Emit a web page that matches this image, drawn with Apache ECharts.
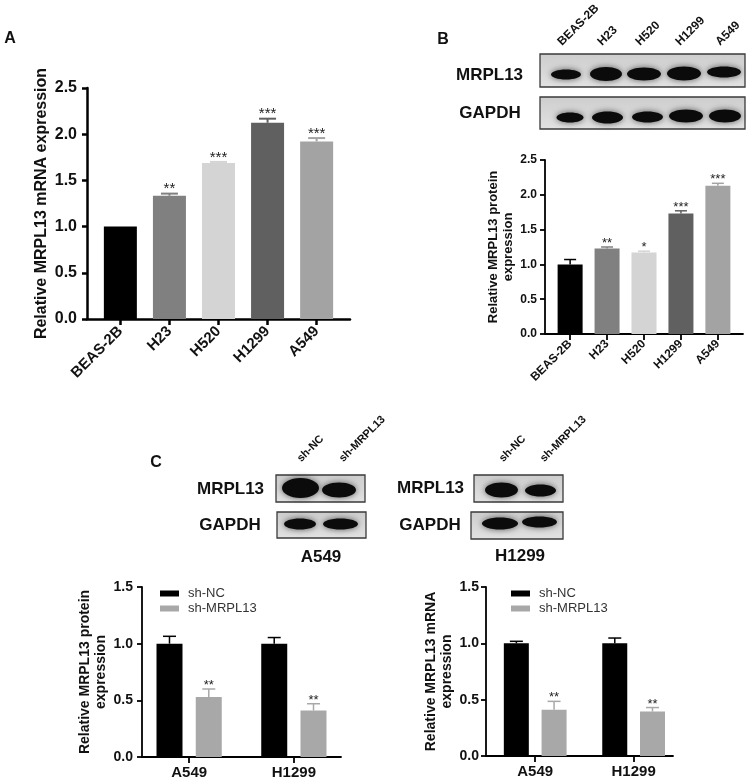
<!DOCTYPE html>
<html>
<head>
<meta charset="utf-8">
<script src="https://cdn.jsdelivr.net/npm/echarts@6/dist/echarts.min.js"></script>
<style>html,body{margin:0;padding:0;background:#fff}#c{width:753px;height:782px}</style>
</head>
<body>
<div id="c"></div>
<script>
// ---------- data ----------
const cellLines = ['BEAS-2B', 'H23', 'H520', 'H1299', 'A549'];
// Panel A: relative mRNA
const mrnaA = [1.0, 1.334, 1.688, 2.124, 1.922];
const mrnaAErr = [0, 0.023, 0.012, 0.044, 0.036];
const mrnaASig = ['', '**', '***', '***', '***'];
// Panel B: relative protein
const protB = [1.0, 1.23, 1.17, 1.73, 2.13];
const protBErr = [0.07, 0.02, 0.02, 0.04, 0.035];
const protBSig = ['', '**', '*', '***', '***'];
// Panel C
const groupsC = ['A549', 'H1299'];
const seriesC = ['sh-NC', 'sh-MRPL13'];
const protNC = [1.0, 1.0];
const protNCErr = [0.065, 0.054];
const protSh = [0.53, 0.41];
const protShErr = [0.07, 0.06];
const mrnaNC = [1.0, 1.0];
const mrnaNCErr = [0.018, 0.047];
const mrnaSh = [0.41, 0.395];
const mrnaShErr = [0.075, 0.035];
const sigC = ['**', '**'];
const laneC = ['sh-NC', 'sh-MRPL13'];

// ---------- styles ----------
const FF = 'Liberation Sans, Arial, Helvetica, sans-serif';
const colA = ['#000000', '#808080', '#d4d4d4', '#606060', '#a3a3a3'];
const colNC = '#000000', colSh = '#a8a8a8';

function errSeries(xi, yi, vals, errs, sigs, offset, capW, colors, lw, fs, dy) {
  return {
    type: 'custom', xAxisIndex: xi, yAxisIndex: yi, z: 5, clip: false, silent: true,
    data: vals.map((v, i) => [i, v, errs[i]]),
    renderItem(params, api) {
      const i = params.dataIndex;
      const x = api.value(0), v = api.value(1), e = api.value(2);
      const p0 = api.coord([x, v]), p1 = api.coord([x, v + e]);
      const cx = p0[0] + offset;
      const color = Array.isArray(colors) ? colors[i] : colors;
      const ch = [];
      if (e > 0) {
        ch.push({type: 'line', shape: {x1: cx, y1: p0[1], x2: cx, y2: p1[1]}, style: {stroke: color, lineWidth: lw}});
        ch.push({type: 'line', shape: {x1: cx - capW / 2, y1: p1[1], x2: cx + capW / 2, y2: p1[1]}, style: {stroke: color, lineWidth: lw}});
      }
      if (sigs[i]) ch.push({type: 'text', style: {text: sigs[i], x: cx, y: p1[1] - dy, align: 'center', verticalAlign: 'top', fontSize: fs, fill: '#222', fontFamily: FF}});
      return {type: 'group', children: ch};
    }
  };
}

function yAx(gi, max, fs, lw, margin, name, nameGap, nameFs) {
  return {
    type: 'value', gridIndex: gi, min: 0, max: max, interval: 0.5,
    splitLine: {show: false},
    axisLine: {show: true, onZero: false, lineStyle: {color: '#000', width: lw}},
    axisTick: {show: true, length: 5, lineStyle: {color: '#000', width: lw}},
    axisLabel: {fontSize: fs, fontWeight: 'bold', color: '#111', fontFamily: FF, margin: margin, formatter: v => v.toFixed(1)},
    name: name, nameLocation: 'middle', nameGap: nameGap,
    nameTextStyle: {fontSize: nameFs, fontWeight: 'bold', color: '#111', fontFamily: FF, lineHeight: nameFs + 2}
  };
}
function xAx(gi, min, max, cats, fs, lw, rotate, margin) {
  const idx = cats.map((c, i) => i);
  return {
    type: 'value', gridIndex: gi, min: min, max: max,
    splitLine: {show: false},
    axisLine: {show: true, onZero: false, lineStyle: {color: '#000', width: lw}},
    axisTick: {show: true, length: 6, customValues: idx, lineStyle: {color: '#000', width: lw}},
    axisLabel: {customValues: idx, formatter: v => cats[Math.round(v)], rotate: rotate, margin: margin,
      fontSize: fs, fontWeight: 'bold', color: '#111', fontFamily: FF}
  };
}

// ---------- blots (picture decoration) ----------
const graphics = [];
function txt(x, y, s, fs, opts) {
  graphics.push(Object.assign({type: 'text', x: x, y: y, rotation: (opts && opts.rot) || 0,
    style: {text: s, x: 0, y: 0, fontSize: fs, fontWeight: 'bold', fill: '#111', fontFamily: FF,
      align: (opts && opts.align) || 'center', verticalAlign: (opts && opts.va) || 'middle'}}));
}
function blot(x1, y1, x2, y2, bands) {
  graphics.push({type: 'rect', shape: {x: x1, y: y1, width: x2 - x1, height: y2 - y1},
    style: {fill: {type: 'linear', x: 0, y: 0, x2: 0, y2: 1, colorStops: [{offset: 0, color: '#cdcdcd'}, {offset: 1, color: '#e2e2e2'}]},
      stroke: '#3a3a3a', lineWidth: 1.3}});
  bands.forEach(b => graphics.push({type: 'ellipse', shape: {cx: b[0], cy: b[1], rx: b[2] / 2, ry: b[3] / 2},
    style: {fill: '#0b0b0b', shadowBlur: 6, shadowColor: 'rgba(0,0,0,0.6)'}}));
}
// panel letters
txt(10, 39, 'A', 16);
txt(443, 40, 'B', 16);
txt(156, 463, 'C', 16);
// panel B blot
const laneBX = [566, 606, 644, 684, 724];
cellLines.forEach((c, i) => txt(laneBX[i] - 2, 48, c, 12, {rot: Math.PI / 4, align: 'left', va: 'bottom'}));
txt(489.5, 75, 'MRPL13', 17);
txt(490, 113, 'GAPDH', 17);
blot(540, 54, 745, 87, [[566, 74.5, 30, 10], [606, 74, 32, 14], [644, 74, 34, 13], [684, 73.5, 34, 14], [724, 72, 34, 11]]);
blot(540, 97, 745, 129, [[570, 117.5, 27, 10], [607.5, 117.5, 31, 12], [647.5, 117, 31, 11], [686, 116, 34, 13], [725, 116, 32, 13]]);
// panel C blots
[[303, 345], [505, 546]].forEach(xs => laneC.forEach((l, i) => txt(xs[i], 464, l, 11, {rot: Math.PI / 4, align: 'left', va: 'bottom'})));
txt(230.5, 489, 'MRPL13', 17);
txt(230, 525, 'GAPDH', 17);
txt(430.5, 488, 'MRPL13', 17);
txt(430, 525, 'GAPDH', 17);
blot(276, 475, 365, 502, [[300.5, 488, 37, 20], [339, 490, 34, 15]]);
blot(277, 512, 366, 538, [[300, 524, 32, 11], [340.5, 524, 35, 11]]);
blot(474, 475, 563, 502, [[501.5, 490, 33, 15], [540.5, 490.5, 31, 12]]);
blot(471, 512, 563, 539, [[500, 523.5, 36, 12], [539.5, 522, 35, 11]]);
txt(321, 557, groupsC[0], 17);
txt(520, 556, groupsC[1], 17);

// ---------- option ----------
const option = {
  animation: false,
  backgroundColor: '#fff',
  graphic: {elements: graphics},
  grid: [
    {left: 87, top: 88, width: 263, height: 231},
    {left: 545, top: 160, width: 198, height: 174},
    {left: 142, top: 587, width: 199, height: 170},
    {left: 486, top: 587, width: 187, height: 169}
  ],
  xAxis: [
    xAx(0, -0.68, 4.68, cellLines, 15, 2.5, 45, 10),
    xAx(1, -0.68, 4.68, cellLines, 12, 1.8, 45, 8),
    xAx(2, -0.45, 1.45, groupsC, 15, 1.8, 0, 8),
    xAx(3, -0.5, 1.4, groupsC, 15, 1.8, 0, 8)
  ],
  yAxis: [
    yAx(0, 2.5, 16, 2.5, 10, 'Relative MRPL13 mRNA expression', 36, 16),
    yAx(1, 2.5, 12, 1.8, 8, 'Relative MRPL13 protein\nexpression', 24, 13),
    yAx(2, 1.5, 14, 1.8, 9, 'Relative MRPL13 protein\nexpression', 24, 14),
    yAx(3, 1.5, 14, 1.8, 7, 'Relative MRPL13 mRNA\nexpression', 20, 14)
  ],
  legend: [
    {left: 155, top: 582, orient: 'vertical', data: seriesC, icon: 'rect', itemWidth: 19, itemHeight: 6, itemGap: 2,
      selectedMode: false, textStyle: {fontSize: 13, color: '#333', fontFamily: FF, lineHeight: 10, padding: [0, 0, 0, 4]}},
    {left: 506, top: 582, orient: 'vertical', data: seriesC, icon: 'rect', itemWidth: 19, itemHeight: 6, itemGap: 2,
      selectedMode: false, textStyle: {fontSize: 13, color: '#333', fontFamily: FF, lineHeight: 10, padding: [0, 0, 0, 4]}}
  ],
  series: [
    {type: 'bar', name: 'A', xAxisIndex: 0, yAxisIndex: 0, barWidth: 33, silent: true,
      data: mrnaA.map((v, i) => ({value: [i, v], itemStyle: {color: colA[i]}}))},
    errSeries(0, 0, mrnaA, mrnaAErr, mrnaASig, 0, 17, colA, 2, 15, 12),
    {type: 'bar', name: 'B', xAxisIndex: 1, yAxisIndex: 1, barWidth: 25, silent: true,
      data: protB.map((v, i) => ({value: [i, v], itemStyle: {color: colA[i]}}))},
    errSeries(1, 1, protB, protBErr, protBSig, 0, 12, colA, 1.5, 13, 10),
    {type: 'bar', name: seriesC[0], xAxisIndex: 2, yAxisIndex: 2, barWidth: 26, barGap: '51%', silent: true,
      itemStyle: {color: colNC}, data: protNC.map((v, i) => [i, v])},
    {type: 'bar', name: seriesC[1], xAxisIndex: 2, yAxisIndex: 2, barWidth: 26, barGap: '51%', silent: true,
      itemStyle: {color: colSh}, data: protSh.map((v, i) => [i, v])},
    errSeries(2, 2, protNC, protNCErr, ['', ''], -19.65, 13, colNC, 1.5, 13, 10),
    errSeries(2, 2, protSh, protShErr, sigC, 19.65, 13, colSh, 1.5, 13, 10),
    {type: 'bar', name: seriesC[0], xAxisIndex: 3, yAxisIndex: 3, barWidth: 25, barGap: '51%', silent: true,
      itemStyle: {color: colNC}, data: mrnaNC.map((v, i) => [i, v])},
    {type: 'bar', name: seriesC[1], xAxisIndex: 3, yAxisIndex: 3, barWidth: 25, barGap: '51%', silent: true,
      itemStyle: {color: colSh}, data: mrnaSh.map((v, i) => [i, v])},
    errSeries(3, 3, mrnaNC, mrnaNCErr, ['', ''], -18.85, 13, colNC, 1.5, 13, 10),
    errSeries(3, 3, mrnaSh, mrnaShErr, sigC, 18.85, 13, colSh, 1.5, 13, 10)
  ]
};
const chart = echarts.init(document.getElementById('c'), null, {renderer: 'canvas', width: 753, height: 782});
chart.setOption(option);
</script>
</body>
</html>
